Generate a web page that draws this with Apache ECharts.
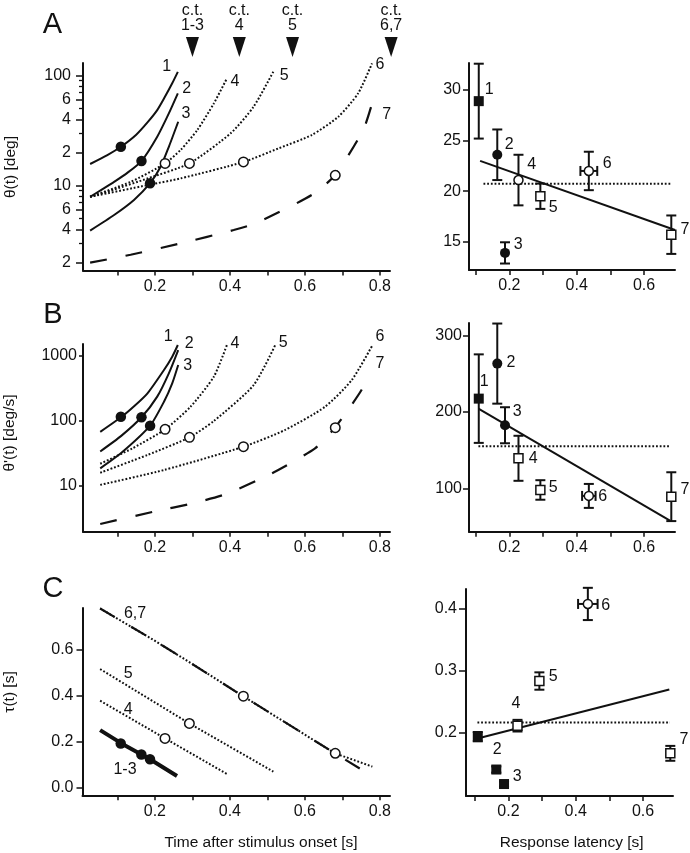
<!DOCTYPE html>
<html><head><meta charset="utf-8">
<script src="https://cdn.jsdelivr.net/npm/echarts@6/dist/echarts.min.js"></script>
<style>html,body{margin:0;padding:0;background:#fff}#c{width:690px;height:853px}</style>
</head><body><div id="c"></div>
<script>
// ---------------- DATA ----------------
// Panel A (left): theta(t) [deg] vs time after stimulus onset [s]
const tA1 = [0.027, 0.073, 0.109, 0.150, 0.180, 0.206, 0.224, 0.246, 0.261];
const thA1 = [15.7, 18.9, 22.5, 29.0, 37.5, 48.5, 61.7, 85, 108];
const tA2 = [0.027, 0.056, 0.091, 0.127, 0.164, 0.206, 0.237, 0.261];
const thA2 = [7.9, 9.1, 10.8, 13.1, 16.7, 27.8, 45.3, 68.9];
const tA3 = [0.027, 0.091, 0.144, 0.187, 0.215, 0.237, 0.262];
const thA3 = [3.9, 5.4, 7.4, 10.5, 14.8, 22.5, 38.0];
const tA4 = [0.027, 0.135, 0.227, 0.268, 0.313, 0.357, 0.392];
const thA4 = [7.9, 10.8, 15.9, 21.0, 32.0, 55.8, 94.4];
const tA5 = [0.027, 0.091, 0.180, 0.292, 0.402, 0.463, 0.518];
const thA5 = [7.9, 9.2, 11.6, 15.9, 29.9, 52.0, 112];
const tA6 = [0.027, 0.187, 0.268, 0.4365, 0.530, 0.618, 0.689, 0.742, 0.779];
const thA6 = [7.9, 10.2, 11.6, 16.4, 21.8, 28.8, 42.2, 68.9, 129];
const tA7 = [0.027, 0.135, 0.268, 0.410, 0.468, 0.618, 0.680, 0.7555, 0.778];
const thA7 = [1.99, 2.35, 2.98, 3.94, 4.53, 8.2, 12.4, 32.0, 54];

// Panel B (left): theta'(t) [deg/s]
const tB1 = [0.054, 0.111, 0.145, 0.180, 0.224, 0.246, 0.261];
const thB1 = [68, 116, 170, 267, 610, 977, 1479];
const tB2 = [0.054, 0.110, 0.164, 0.206, 0.237, 0.262];
const thB2 = [34, 59, 114, 237, 542, 1236];
const tB3 = [0.054, 0.109, 0.187, 0.224, 0.246, 0.262];
const thB3 = [18.7, 31.8, 84.7, 198, 380, 728];
const tB4 = [0.054, 0.140, 0.227, 0.295, 0.357, 0.392];
const thB4 = [22, 38, 74.5, 166, 481, 1479];
const tB5 = [0.054, 0.180, 0.292, 0.357, 0.463, 0.521];
const thB5 = [16, 30, 56, 100, 355, 1479];
const tB6 = [0.054, 0.224, 0.4365, 0.547, 0.654, 0.725, 0.779];
const thB6 = [10.4, 17.6, 40.3, 72.8, 166, 427, 1426];
const tB7 = [0.054, 0.197, 0.300, 0.392, 0.512, 0.627, 0.680, 0.751, 0.762];
const thB7 = [2.6, 4.03, 5.4, 7.6, 15.7, 38, 78.9, 300, 481];

// Panel C (left): tau(t) [s]
const tC6 = [0.054, 0.197, 0.295, 0.435, 0.680, 0.780];
const tauC6 = [0.781, 0.643, 0.544, 0.399, 0.150, 0.092];
const tC7 = [0.054, 0.197, 0.295, 0.435, 0.680, 0.773];
const tauC7 = [0.781, 0.643, 0.544, 0.399, 0.150, 0.057];
const tC5 = [0.054, 0.292, 0.516];
const tauC5 = [0.517, 0.280, 0.070];
const tC4 = [0.054, 0.227, 0.392];
const tauC4 = [0.379, 0.215, 0.060];
const tC13 = [0.054, 0.111, 0.164, 0.187, 0.259];
const tauC13 = [0.251, 0.193, 0.145, 0.124, 0.051];

// Response latencies of the 7 conditions and the values at that time
const latency = [0.109, 0.164, 0.187, 0.227, 0.292, 0.436, 0.681];
const thetaAtLatency = [22.5, 16.7, 10.5, 15.9, 15.9, 16.4, 12.4];
const dthetaAtLatency = [116, 114, 84.7, 74.5, 56, 40.3, 78.9];
const tauAtLatency = [0.193, 0.145, 0.124, 0.215, 0.280, 0.399, 0.150];

// Right panels: means +- error
const thetaMean = [28.9, 23.6, 13.9, 21.1, 19.5, 22.0, 15.7];
const thetaErr = [3.7, 2.5, 1.05, 2.5, 1.25, 1.9, 1.9];
const latErrA = [0, 0, 0, 0, 0, 0.025, 0];
const fitXA = [0.113, 0.692], fitYA = [23.0, 16.17];
const meanXA = [0.123, 0.682], meanYA = [20.74, 20.74];

const dthetaMean = [217.5, 263.4, 182.6, 139.3, 97.8, 90, 89];
const dthetaErr = [58, 52.5, 23.6, 29.5, 12.8, 15.7, 32];
const latErrB = [0, 0, 0, 0, 0, 0.02, 0];
const fitXB = [0.108, 0.677], fitYB = [204.5, 57.7];
const meanXB = [0.108, 0.678], meanYB = [155, 155];

const tauMean = [0.193, 0.140, 0.1166, 0.2107, 0.2827, 0.407, 0.1661];
const tauErr = [0.0075, 0.005, 0.004, 0.0094, 0.014, 0.026, 0.012];
const latErrC = [0, 0, 0, 0, 0, 0.029, 0];
const fitXC = [0.108, 0.678], fitYC = [0.190, 0.269];
const meanXC = [0.108, 0.680], meanYC = [0.216, 0.216];

// collision times (c.t.)
const ctTimes = [0.300, 0.425, 0.567, 0.830];
const ctNames = ['1-3', '4', '5', '6,7'];

// Tick values
const xTicksL = [0.1, 0.2, 0.3, 0.4, 0.5, 0.6, 0.7, 0.8];
const xLabelsL = [0.2, 0.4, 0.6, 0.8];
const xTicksR = [0.1, 0.2, 0.3, 0.4, 0.5, 0.6];
const xLabelsR = [0.2, 0.4, 0.6];
const yTicksA = [2, 4, 6, 10, 20, 40, 60, 100];
const yMinorA = [3, 5, 7, 8, 9, 30, 50, 70, 80, 90];
const yTicksB = [10, 100, 1000];
const yTicksC = [0, 0.2, 0.4, 0.6];
const yTicksAR = [15, 20, 25, 30];
const yTicksBR = [100, 200, 300];
const yTicksCR = [0.2, 0.3, 0.4];

// ---------------- STYLE / LAYOUT ----------------
const FONT = '"Liberation Sans", Arial, Helvetica, sans-serif';
const INK = '#111';
const FS = 16;
const L = Math.log10;

const solid = {color: INK, width: 2, type: 'solid', opacity: 1};
const dotted = {color: INK, width: 2, type: [1.8, 1.9], cap: 'butt', opacity: 1};
const dashed = {color: INK, width: 2.2, type: [17, 19], opacity: 1};
const thick = {color: INK, width: 4, type: 'solid', opacity: 1};

const grids = [
  {left: 83, top: 63, width: 307, height: 207.5},     // A left
  {left: 469, top: 63, width: 206, height: 207},      // A right
  {left: 83, top: 344, width: 307, height: 187.7},    // B left
  {left: 469, top: 323, width: 206, height: 208.7},   // B right
  {left: 82.5, top: 608, width: 307.5, height: 187.3},// C left
  {left: 466, top: 589, width: 207, height: 207}      // C right
].map(g => Object.assign({containLabel: false, outerBoundsMode: 'none'}, g));

function xAx(grid, min, max, ticks, labels) {
  return {type: 'value', gridIndex: grid, min, max, position: 'bottom',
    axisLine: {show: true, onZero: false, lineStyle: {color: INK, width: 2}},
    axisTick: {show: true, inside: false, length: 5, customValues: ticks, lineStyle: {color: INK, width: 1.5}},
    axisLabel: {show: true, customValues: labels, margin: 8, fontSize: FS, fontFamily: FONT, color: INK,
      formatter: v => (+v).toFixed(1)},
    splitLine: {show: false}};
}
function yAx(grid, min, max, ticks, fmt, tickLen, margin) {
  return {type: 'value', gridIndex: grid, min, max, position: 'left',
    axisLine: {show: true, onZero: false, lineStyle: {color: INK, width: 2}},
    axisTick: {show: true, inside: false, length: tickLen, customValues: ticks, lineStyle: {color: INK, width: 1.5}},
    axisLabel: {show: true, customValues: ticks, margin: margin, fontSize: FS, fontFamily: FONT, color: INK, formatter: fmt},
    splitLine: {show: false}};
}
// log-axis label: powers of ten in full, intermediate ticks by their leading digit (2, 4, 6)
const logFmt = v => {
  const n = Math.round(Math.pow(10, v));
  const p = Math.floor(Math.log10(n) + 1e-9);
  const lead = n / Math.pow(10, p);
  return Math.abs(lead - 1) < 1e-9 ? String(n) : String(Math.round(lead));
};

const xAxes = [
  xAx(0, 0.008, 0.827, xTicksL, xLabelsL),
  xAx(1, 0.080, 0.692, xTicksR, xLabelsR),
  xAx(2, 0.008, 0.827, xTicksL, xLabelsL),
  xAx(3, 0.080, 0.692, xTicksR, xLabelsR),
  xAx(4, 0.007, 0.827, xTicksL, xLabelsL),
  xAx(5, 0.074, 0.689, xTicksR, xLabelsR)
];
const yAxes = [
  yAx(0, L(1.69), L(130), yTicksA.map(L), logFmt, 7, 12),
  yAx(1, 12.21, 32.67, yTicksAR, v => String(v), 6, 8),
  yAx(2, L(1.98), L(1530), yTicksB.map(L), logFmt, 4, 6),
  yAx(3, 43.1, 316.6, yTicksBR, v => String(v), 6, 7),
  yAx(4, -0.033, 0.783, yTicksC, v => (+v).toFixed(1), 6, 9),
  yAx(5, 0.0973, 0.4311, yTicksCR, v => (+v).toFixed(1), 7, 9),
  // minor ticks of the log axis in panel A
  {type: 'value', gridIndex: 0, min: L(1.69), max: L(130), position: 'left',
   axisLine: {show: false}, axisLabel: {show: false}, splitLine: {show: false},
   axisTick: {show: true, inside: false, length: 4, customValues: yMinorA.map(L), lineStyle: {color: INK, width: 1.3}}}
];

function curve(g, xs, ys, style, log, smooth) {
  return {type: 'line', xAxisIndex: g, yAxisIndex: g, silent: true, animation: false,
    symbol: 'none', showSymbol: false, smooth: smooth === false ? false : 0.22,
    lineStyle: style, z: 2,
    data: xs.map((x, i) => [x, log ? L(ys[i]) : ys[i]])};
}
function seg(g, xs, ys, style) {
  return {type: 'line', xAxisIndex: g, yAxisIndex: g, silent: true, animation: false,
    symbol: 'none', showSymbol: false, lineStyle: style, z: 2, data: xs.map((x, i) => [x, ys[i]])};
}
const filledStyle = {color: INK, borderWidth: 0, opacity: 1};
const openStyle = {color: '#fff', borderColor: INK, borderWidth: 1.5, opacity: 1};
// markers on left curves: first three filled, rest open
function curveMarkers(g, ys, log) {
  return {type: 'scatter', xAxisIndex: g, yAxisIndex: g, silent: true, animation: false, z: 5,
    symbol: 'circle', itemStyle: {opacity: 1},
    data: latency.map((x, i) => ({value: [x, log ? L(ys[i]) : ys[i]],
      symbolSize: i < 3 ? 10.5 : 9.5,
      itemStyle: i < 3 ? filledStyle : openStyle}))};
}
function errBars(g, ys, es, xes) {
  return {type: 'custom', xAxisIndex: g, yAxisIndex: g, silent: true, animation: false, z: 3,
    data: latency.map((x, i) => [x, ys[i], es[i], xes[i]]),
    encode: {x: 0, y: 1},
    renderItem: function (params, api) {
      const x = api.value(0), y = api.value(1), e = api.value(2), ex = api.value(3);
      const top = api.coord([x, y + e]), bot = api.coord([x, y - e]);
      const cap = 5, st = {stroke: INK, lineWidth: 2};
      const ch = [
        {type: 'line', shape: {x1: top[0], y1: top[1], x2: bot[0], y2: bot[1]}, style: st},
        {type: 'line', shape: {x1: top[0] - cap, y1: top[1], x2: top[0] + cap, y2: top[1]}, style: st},
        {type: 'line', shape: {x1: bot[0] - cap, y1: bot[1], x2: bot[0] + cap, y2: bot[1]}, style: st}
      ];
      if (ex > 0) {
        const lp = api.coord([x - ex, y]), rp = api.coord([x + ex, y]);
        ch.push({type: 'line', shape: {x1: lp[0], y1: lp[1], x2: rp[0], y2: rp[1]}, style: st});
        ch.push({type: 'line', shape: {x1: lp[0], y1: lp[1] - cap, x2: lp[0], y2: lp[1] + cap}, style: st});
        ch.push({type: 'line', shape: {x1: rp[0], y1: rp[1] - cap, x2: rp[0], y2: rp[1] + cap}, style: st});
      }
      return {type: 'group', children: ch};
    }};
}
function meanMarkers(g, ys, shapes, filled) {
  return {type: 'scatter', xAxisIndex: g, yAxisIndex: g, silent: true, animation: false, z: 5,
    itemStyle: {opacity: 1},
    data: latency.map((x, i) => ({value: [x, ys[i]],
      symbol: shapes[i] === 's' ? 'rect' : 'circle',
      symbolSize: filled[i] ? 10 : 9,
      itemStyle: filled[i] ? filledStyle : openStyle}))};
}
const fillFlags = [true, true, true, false, false, false, false];
const shapesA = ['s', 'c', 'c', 'c', 's', 'c', 's'];
const shapesB = ['s', 'c', 'c', 's', 's', 'c', 's'];
const shapesC = ['s', 's', 's', 's', 's', 'c', 's'];

const series = [
  // A left
  curve(0, tA1, thA1, solid, true), curve(0, tA2, thA2, solid, true), curve(0, tA3, thA3, solid, true),
  curve(0, tA4, thA4, dotted, true), curve(0, tA5, thA5, dotted, true), curve(0, tA6, thA6, dotted, true),
  curve(0, tA7, thA7, dashed, true),
  curveMarkers(0, thetaAtLatency, true),
  {type: 'scatter', xAxisIndex: 0, yAxisIndex: 0, silent: true, animation: false, clip: false, z: 5,
   symbol: 'triangle', symbolRotate: 180, symbolSize: [13, 20], itemStyle: {color: INK, opacity: 1},
   data: ctTimes.map((t, i) => ({value: [t, L(182)], name: ctNames[i]})),
   label: {show: true, position: 'top', distance: 4, fontSize: 16, lineHeight: 15, fontFamily: FONT, color: INK,
     formatter: p => 'c.t.\n' + p.name}},
  // A right
  seg(1, fitXA, fitYA, solid), seg(1, meanXA, meanYA, dotted),
  errBars(1, thetaMean, thetaErr, latErrA), meanMarkers(1, thetaMean, shapesA, fillFlags),
  // B left
  curve(2, tB1, thB1, solid, true), curve(2, tB2, thB2, solid, true), curve(2, tB3, thB3, solid, true),
  curve(2, tB4, thB4, dotted, true), curve(2, tB5, thB5, dotted, true), curve(2, tB6, thB6, dotted, true),
  curve(2, tB7, thB7, dashed, true),
  curveMarkers(2, dthetaAtLatency, true),
  // B right
  seg(3, fitXB, fitYB, solid), seg(3, meanXB, meanYB, dotted),
  errBars(3, dthetaMean, dthetaErr, latErrB), meanMarkers(3, dthetaMean, shapesB, fillFlags),
  // C left
  curve(4, tC6, tauC6, dotted, false, false), curve(4, tC7, tauC7, dashed, false, false),
  curve(4, tC5, tauC5, dotted, false, false), curve(4, tC4, tauC4, dotted, false, false),
  curve(4, tC13, tauC13, thick, false, false),
  curveMarkers(4, tauAtLatency, false),
  // C right
  seg(5, fitXC, fitYC, solid), seg(5, meanXC, meanYC, dotted),
  errBars(5, tauMean, tauErr, latErrC), meanMarkers(5, tauMean, shapesC, fillFlags)
];

// text annotations: [text, x, y, size]
const notes = [
  ['A', 52.5, 25, 29], ['B', 53, 315, 29], ['C', 53, 589, 29],
  ['1', 166.7, 66.7], ['2', 186.7, 88.3], ['3', 186, 113.3], ['4', 235, 81.7], ['5', 284.3, 76], ['6', 380, 65], ['7', 386.7, 115],
  ['1', 489.3, 90], ['2', 509.3, 145], ['3', 518.3, 245], ['4', 531.7, 165], ['5', 553.3, 207.3], ['6', 607.3, 164], ['7', 685, 230],
  ['1', 168.3, 336.7], ['2', 189.3, 343.3], ['3', 187.7, 366], ['4', 235, 344], ['5', 283.3, 342.7], ['6', 380, 336.7], ['7', 380, 363.3],
  ['1', 484.3, 381.7], ['2', 511, 362.3], ['3', 517.3, 411.7], ['4', 533.3, 458.3], ['5', 553.3, 487.7], ['6', 602.7, 496.7], ['7', 685, 490],
  ['6,7', 135, 614], ['5', 128.3, 674], ['4', 128.3, 709.3], ['1-3', 125, 770],
  ['6', 605.7, 606], ['5', 553.3, 676.7], ['4', 516, 703.3], ['2', 497.3, 750], ['3', 517.3, 776.7], ['7', 684, 740],
  ['Time after stimulus onset [s]', 261, 843, 15.5], ['Response latency [s]', 571.7, 843, 15.5]
];
const rotNotes = [['θ(t) [deg]', 11, 167], ["θ'(t) [deg/s]", 10, 433], ['τ(t) [s]', 10, 692]];

const elements = notes.map(n => ({type: 'text', x: n[1], y: n[2], silent: true,
  style: {text: n[0], fontSize: n[3] || FS, fontFamily: FONT, fill: INK,
    textAlign: 'center', textVerticalAlign: 'middle', align: 'center', verticalAlign: 'middle'}}))
  .concat(rotNotes.map(n => ({type: 'text', x: n[1], y: n[2], rotation: Math.PI / 2, silent: true,
  style: {text: n[0], fontSize: 15.5, fontFamily: FONT, fill: INK,
    textAlign: 'center', textVerticalAlign: 'middle', align: 'center', verticalAlign: 'middle'}})));

const chart = echarts.init(document.getElementById('c'), null, {renderer: 'canvas'});
chart.setOption({
  backgroundColor: '#fff', animation: false,
  textStyle: {fontFamily: FONT},
  grid: grids, xAxis: xAxes, yAxis: yAxes, series: series,
  graphic: {elements: elements}
});
</script></body></html>
